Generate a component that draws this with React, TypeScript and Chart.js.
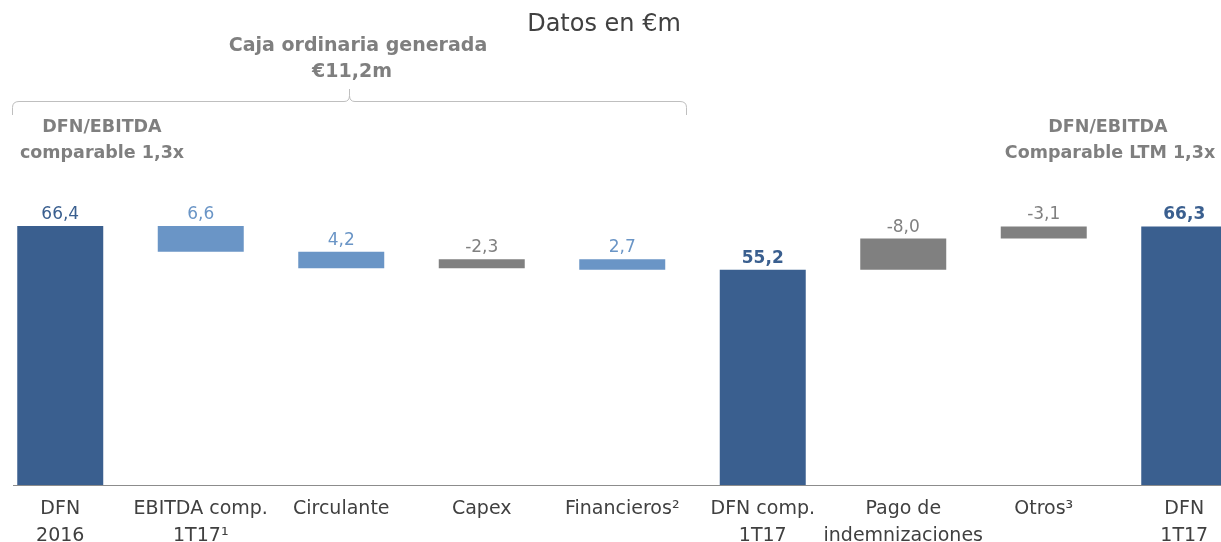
import React, { useEffect, useRef } from "react";
import { Chart, registerables } from "chart.js";

Chart.register(...registerables);

// ---- Data ----
const categories: (string | string[])[] = [
  ["DFN", "2016"],
  ["EBITDA comp.", "1T17¹"],
  "Circulante",
  "Capex",
  "Financieros²",
  ["DFN comp.", "1T17"],
  ["Pago de", "indemnizaciones"],
  "Otros³",
  ["DFN", "1T17"],
];
const values = [66.4, 6.6, 4.2, -2.3, 2.7, 55.2, -8.0, -3.1, 66.3];
const kinds = ["total", "delta", "delta", "delta", "delta", "total", "delta", "delta", "total"];
const boldValue = [false, false, false, false, false, true, false, false, true];

const unitText = "Datos en €m";
const bracketTitle = ["Caja ordinaria generada", "€11,2m"];
const leftNote = ["DFN/EBITDA", "comparable 1,3x"];
const rightNote = ["DFN/EBITDA", "Comparable LTM 1,3x"];

// ---- Style ----
const FONT = '"DejaVu Sans", sans-serif';
const DARK = "#3A5F8F";
const LIGHT = "#6A95C6";
const GREY = "#808080";
const NOTE = "#7F7F7F";
const TEXT = "#404040";
const OX = 10; // canvas x = page x + OX

const fmt = (v: number) => v.toFixed(1).replace(".", ",");

function buildRanges() {
  const out: [number, number][] = [];
  let level = 0;
  values.forEach((v, i) => {
    if (kinds[i] === "total") {
      out.push([0, v]);
      level = v;
    } else {
      const next = level - v;
      out.push([Math.min(level, next), Math.max(level, next)]);
      level = next;
    }
  });
  return out;
}

const colorFor = (i: number) =>
  kinds[i] === "total" ? DARK : values[i] >= 0 ? LIGHT : GREY;

export default function App() {
  const ref = useRef<HTMLCanvasElement>(null);
  useEffect(() => {
    document.body.style.margin = "0";
    const ctx = ref.current!.getContext("2d")!;

    const labelsPlugin = {
      id: "valueLabels",
      afterDatasetsDraw(chart: any) {
        const c = chart.ctx;
        const meta = chart.getDatasetMeta(0);
        c.save();
        c.textAlign = "center";
        c.textBaseline = "alphabetic";
        meta.data.forEach((el: any, i: number) => {
          const top = Math.min(el.y, el.base);
          c.font = `${boldValue[i] ? "bold " : ""}17px ${FONT}`;
          c.fillStyle = colorFor(i);
          c.fillText(fmt(values[i]), el.x, top - 7);
        });
        c.restore();
      },
    };

    const notesPlugin = {
      id: "notes",
      afterDraw(chart: any) {
        const c = chart.ctx;
        c.save();
        // axis line
        const yb = chart.scales.y.getPixelForValue(0);
        c.strokeStyle = "#8C8C8C";
        c.lineWidth = 1;
        c.beginPath();
        c.moveTo(13 + OX, Math.round(yb) + 0.5);
        c.lineTo(1221 + OX, Math.round(yb) + 0.5);
        c.stroke();

        c.textAlign = "center";
        c.textBaseline = "alphabetic";
        c.fillStyle = TEXT;
        c.font = `24px ${FONT}`;
        c.fillText(unitText, 604 + OX, 31);

        c.fillStyle = NOTE;
        c.font = `bold 19px ${FONT}`;
        c.fillText(bracketTitle[0], 358 + OX, 51);
        c.fillText(bracketTitle[1], 352 + OX, 77);

        c.font = `bold 17.5px ${FONT}`;
        c.fillText(leftNote[0], 102 + OX, 132);
        c.fillText(leftNote[1], 102 + OX, 158);
        c.fillText(rightNote[0], 1108 + OX, 132);
        c.fillText(rightNote[1], 1110 + OX, 158);

        // bracket
        c.strokeStyle = "#BFBFBF";
        c.lineWidth = 1;
        const y0 = 101.5;
        c.beginPath();
        c.moveTo(12.5 + OX, 115);
        c.lineTo(12.5 + OX, y0 + 6);
        c.quadraticCurveTo(12.5 + OX, y0, 19 + OX, y0);
        c.lineTo(344 + OX, y0);
        c.quadraticCurveTo(349.5 + OX, y0, 349.5 + OX, y0 - 6);
        c.lineTo(349.5 + OX, 89);
        c.moveTo(349.5 + OX, y0 - 6);
        c.quadraticCurveTo(349.5 + OX, y0, 355 + OX, y0);
        c.lineTo(680 + OX, y0);
        c.quadraticCurveTo(686.5 + OX, y0, 686.5 + OX, y0 + 6);
        c.lineTo(686.5 + OX, 115);
        c.stroke();
        c.restore();
      },
    };

    const chart = new Chart(ctx, {
      type: "bar",
      data: {
        labels: categories,
        datasets: [
          {
            data: buildRanges() as any,
            backgroundColor: values.map((_, i) => colorFor(i)),
            borderWidth: 0,
            barPercentage: 0.612,
            categoryPercentage: 1,
          },
        ],
      },
      options: {
        responsive: false,
        maintainAspectRatio: false,
        animation: false,
        devicePixelRatio: 1,
        layout: { padding: { left: 0, right: 10.5, top: 95, bottom: 18 } },
        plugins: {
          legend: { display: false },
          tooltip: { enabled: false },
          title: { display: false },
        },
        scales: {
          x: {
            grid: { display: false },
            border: { display: false },
            ticks: {
              autoSkip: false,
              maxRotation: 0,
              minRotation: 0,
              padding: 3,
              color: TEXT,
              font: { family: FONT, size: 19, lineHeight: "26.5px" } as any,
            },
          },
          y: {
            display: false,
            min: 0,
            max: 100,
          },
        },
      },
      plugins: [labelsPlugin, notesPlugin],
    });
    return () => chart.destroy();
  }, []);

  return (
    <div
      style={{
        position: "fixed",
        left: 0,
        top: 0,
        width: 1221,
        height: 542,
        overflow: "hidden",
        background: "#fff",
      }}
    >
      <canvas
        ref={ref}
        width={1275}
        height={570}
        style={{ position: "absolute", left: -OX, top: 0, width: 1275, height: 570 }}
      />
    </div>
  );
}
